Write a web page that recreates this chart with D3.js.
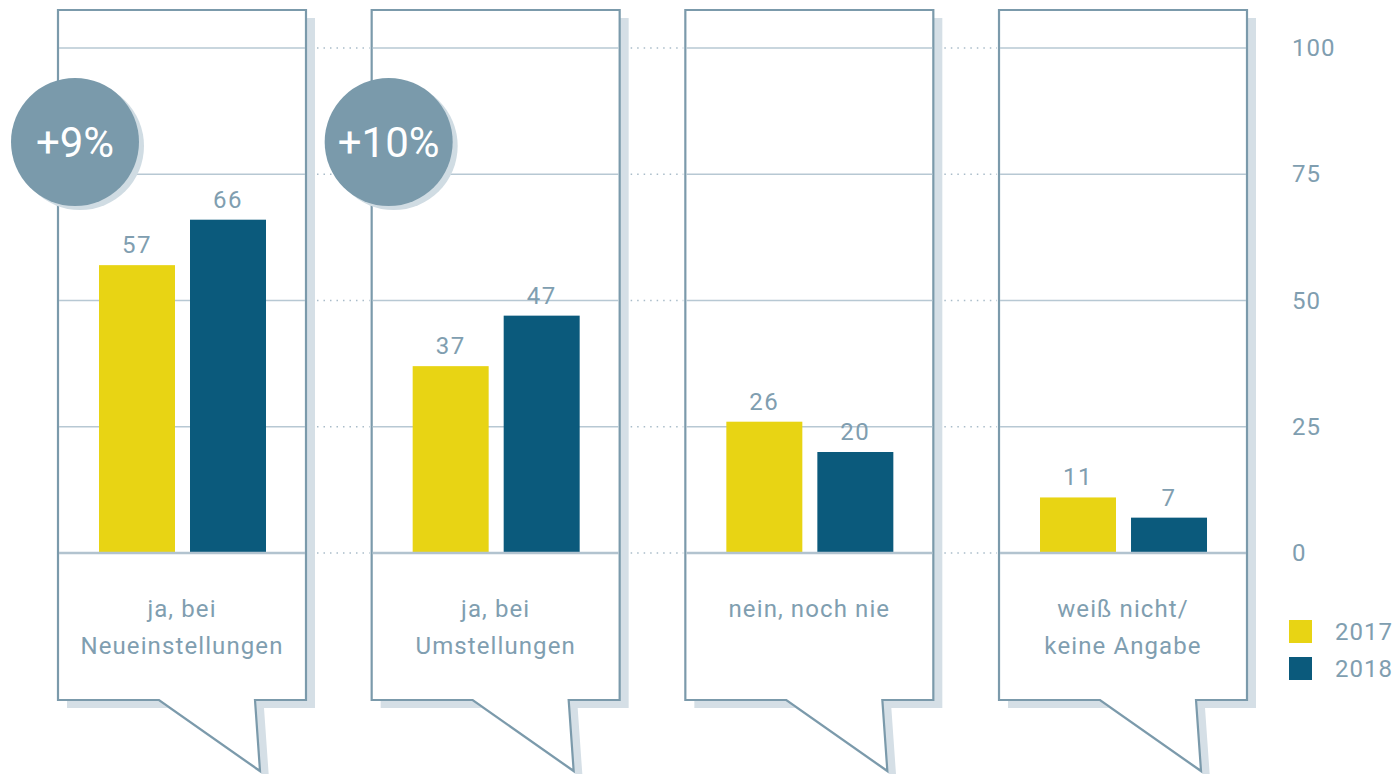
<!DOCTYPE html>
<html>
<head>
<meta charset="utf-8">
<script src="https://cdn.jsdelivr.net/npm/d3@7"></script>
<style>
  body { margin: 0; background: #fff; }
  #chart { width: 1400px; height: 774px; }
  text { font-family: 'Roboto', 'DejaVu Sans', sans-serif; }
</style>
</head>
<body>
<div id="chart"></div>
<script>
// Data
const categories = [
    ["ja, bei", "Neueinstellungen"],
    ["ja, bei", "Umstellungen"],
    ["nein, noch nie"],
    ["weiß nicht/", "keine Angabe"]
];
const years = ["2017", "2018"];
const values2017 = [57, 37, 26, 11];
const values2018 = [66, 47, 20, 7];
const tickValues = [0, 25, 50, 75, 100];

const colors = ["#e8d414", "#0b5a7c"];
const lineColor = "#7b9aab";
const textColor = "#809eb0";
const gridColor = "#b7c8d3";
const shadowColor = "#d5dfe6";

const width = 1400, height = 774;

const svg = d3.select("#chart")
    .append("svg")
    .attr("width", width)
    .attr("height", height);

// Scales
const y = d3.scaleLinear().domain([0, 100]).range([553, 48]);

const panelX = d3.scaleBand()
    .domain(d3.range(categories.length))
    .range([58, 1247])
    .paddingInner(0.2094)
    .paddingOuter(0);

const barX = d3.scaleBand()
    .domain(years)
    .range([41, 208])
    .paddingInner(0.165);

const pw = panelX.bandwidth();
const panelTop = 10, panelBottom = 700, tipY = 771;
const shadowDx = 9, shadowDy = 8;

// Speech bubble outline, relative to panel left
function bubblePath() {
    const p = d3.path();
    p.moveTo(0, panelTop);
    p.lineTo(pw, panelTop);
    p.lineTo(pw, panelBottom);
    p.lineTo(197, panelBottom);
    p.lineTo(202, tipY);
    p.lineTo(101, panelBottom);
    p.lineTo(0, panelBottom);
    p.closePath();
    return p.toString();
}

// Dotted connectors between panels
const connectors = svg.append("g");
d3.range(categories.length - 1).forEach(i => {
    connectors.selectAll(null)
        .data(tickValues)
        .enter()
        .append("line")
        .attr("x1", panelX(i) + pw + shadowDx + 2)
        .attr("x2", panelX(i + 1) - 2)
        .attr("y1", d => y(d))
        .attr("y2", d => y(d))
        .attr("stroke", "#a9bcc9")
        .attr("stroke-width", 1.5)
        .attr("stroke-dasharray", "1.5,5");
});

const panels = svg.selectAll("g.panel")
    .data(categories.map((c, i) => ({label: c, v: [values2017[i], values2018[i]], i: i})))
    .enter()
    .append("g")
    .attr("class", "panel")
    .attr("transform", d => `translate(${panelX(d.i)},0)`);

// shadow
panels.append("path")
    .attr("d", bubblePath())
    .attr("transform", `translate(${shadowDx},${shadowDy})`)
    .attr("fill", shadowColor);

// bubble
panels.append("path")
    .attr("d", bubblePath())
    .attr("fill", "#fff")
    .attr("stroke", lineColor)
    .attr("stroke-width", 2.2)
    .attr("stroke-linejoin", "miter");

// grid lines
panels.selectAll("line.grid")
    .data(tickValues.filter(t => t > 0))
    .enter()
    .append("line")
    .attr("class", "grid")
    .attr("x1", 1)
    .attr("x2", pw - 1)
    .attr("y1", d => y(d))
    .attr("y2", d => y(d))
    .attr("stroke", gridColor)
    .attr("stroke-width", 1.3);

// bars
panels.selectAll("rect.bar")
    .data(d => d.v.map((v, k) => ({year: years[k], value: v, k: k})))
    .enter()
    .append("rect")
    .attr("class", "bar")
    .attr("x", d => barX(d.year))
    .attr("width", barX.bandwidth())
    .attr("y", d => y(d.value))
    .attr("height", d => y(0) - y(d.value))
    .attr("fill", d => colors[d.k]);

// zero line
panels.append("line")
    .attr("x1", 1)
    .attr("x2", pw - 1)
    .attr("y1", y(0))
    .attr("y2", y(0))
    .attr("stroke", "#b2c3cf")
    .attr("stroke-width", 2.5);

// value labels
panels.selectAll("text.value")
    .data(d => d.v.map((v, k) => ({year: years[k], value: v})))
    .enter()
    .append("text")
    .attr("class", "value")
    .attr("x", d => barX(d.year) + barX.bandwidth() / 2)
    .attr("y", d => y(d.value) - 12)
    .attr("text-anchor", "middle")
    .attr("fill", textColor)
    .attr("font-size", 24)
    .attr("letter-spacing", 1.5)
    .text(d => d.value);

// category labels
panels.each(function(d) {
    const t = d3.select(this).append("text")
        .attr("text-anchor", "middle")
        .attr("fill", textColor)
        .attr("font-size", 24)
        .attr("letter-spacing", 1.1);
    d.label.forEach((line, j) => {
        t.append("tspan")
            .attr("x", pw / 2)
            .attr("y", 617 + j * 37)
            .text(line);
    });
});

// change badges where 2018 grew
const badges = panels.filter(d => d.v[1] > d.v[0]);
badges.append("circle")
    .attr("cx", 17 + 5)
    .attr("cy", 142 + 4)
    .attr("r", 64)
    .attr("fill", "#d0dce3");
badges.append("circle")
    .attr("cx", 17)
    .attr("cy", 142)
    .attr("r", 64)
    .attr("fill", "#7a9aab");
badges.append("text")
    .attr("x", 17)
    .attr("y", 157)
    .attr("text-anchor", "middle")
    .attr("fill", "#fff")
    .attr("font-size", 42)
    .text(d => "+" + (d.v[1] - d.v[0]) + "%");

// y axis on the right
const axis = svg.append("g")
    .attr("transform", "translate(1292,0)")
    .call(d3.axisRight(y).tickValues(tickValues).tickSize(0).tickPadding(0));
axis.select(".domain").remove();
axis.selectAll("text")
    .attr("fill", textColor)
    .attr("font-size", 24)
    .attr("letter-spacing", 1)
    .attr("font-family", "'Roboto', sans-serif");

// legend
const legend = svg.append("g")
    .attr("transform", "translate(1289,620)");
const items = legend.selectAll("g")
    .data(years)
    .enter()
    .append("g")
    .attr("transform", (d, i) => `translate(0,${i * 37})`);
items.append("rect")
    .attr("width", 23)
    .attr("height", 23)
    .attr("fill", (d, i) => colors[i]);
items.append("text")
    .attr("x", 46)
    .attr("y", 20)
    .attr("fill", textColor)
    .attr("font-size", 24)
    .attr("letter-spacing", 1)
    .text(d => d);
</script>
</body>
</html>
